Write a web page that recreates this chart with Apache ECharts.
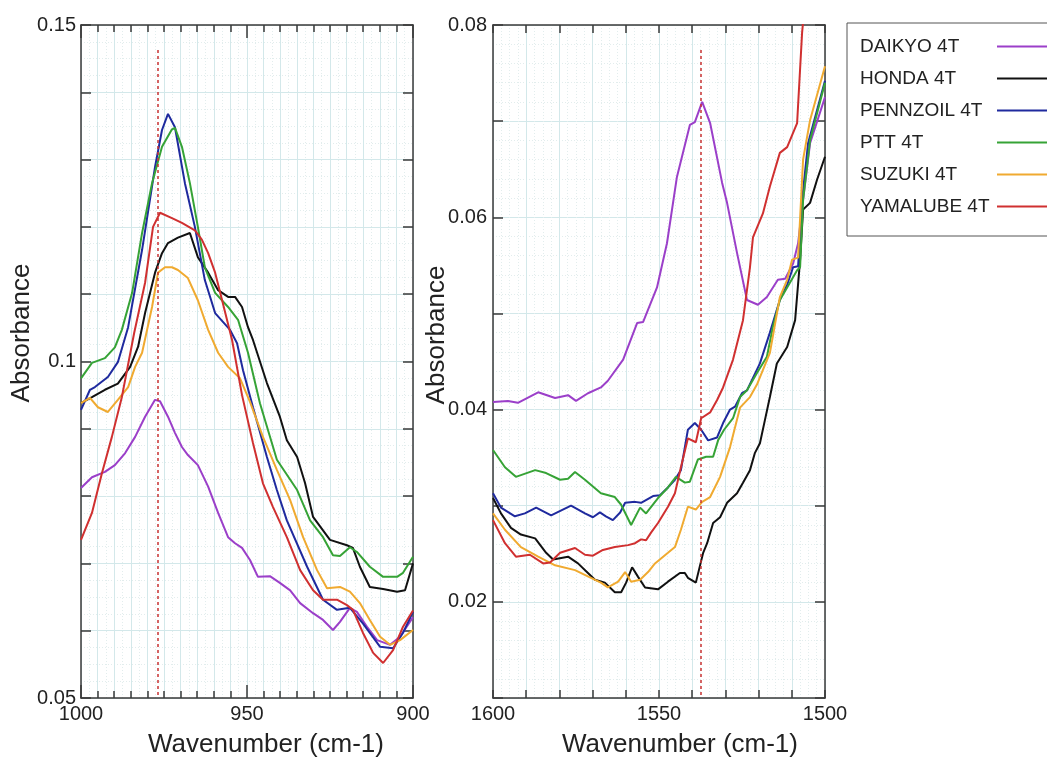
<!DOCTYPE html>
<html>
<head>
<meta charset="utf-8">
<script src="https://cdn.jsdelivr.net/npm/echarts@6/dist/echarts.min.js"></script>
<style>
html,body{margin:0;padding:0;background:#fff;}
#chart{width:1047px;height:762px;}
</style>
</head>
<body>
<div id="chart"></div>
<script>
// ---------- DATA ----------
const seriesNames = ['DAIKYO 4T', 'HONDA 4T', 'PENNZOIL 4T', 'PTT 4T', 'SUZUKI 4T', 'YAMALUBE 4T'];
const seriesColors = ['#9b3fc9', '#111111', '#1f2a9e', '#36a336', '#f0aa30', '#d03030'];

// Panel A: 1000 - 900 cm-1  [wavenumber, absorbance]
const daikyoA = [[1000,0.0812],[996.7,0.0828],[992.8,0.0836],[989.8,0.0846],[986.7,0.0864],[983.7,0.0888],[980.7,0.0918],[977.7,0.0943],[976.2,0.0941],[973.8,0.0918],[971.7,0.0894],[969.6,0.0873],[967.8,0.0861],[964.8,0.0846],[961.7,0.0814],[958.7,0.0775],[955.7,0.0739],[953.6,0.0730],[951.5,0.0723],[949.1,0.0705],[946.7,0.0680],[943.1,0.0681],[940.1,0.0671],[937.0,0.0660],[934.0,0.0641],[930.1,0.0626],[927.1,0.0616],[924.1,0.0601],[922.0,0.0613],[919.0,0.0634],[916.9,0.0628],[913.9,0.0606],[910.8,0.0586],[906.9,0.0579],[903.9,0.0591],[900,0.0620]];
const hondaA = [[1000,0.0938],[996.7,0.0947],[992.8,0.0958],[988.9,0.0967],[985.2,0.0992],[982.8,0.1022],[980.7,0.1072],[977.7,0.1132],[975.6,0.1161],[973.8,0.1176],[970.8,0.1184],[967.2,0.1191],[964.8,0.1155],[961.7,0.1132],[958.7,0.1106],[955.7,0.1096],[953.6,0.1096],[951.5,0.1081],[949.7,0.1051],[948.2,0.1032],[944.0,0.0968],[940.1,0.0918],[938.0,0.0883],[934.9,0.0858],[932.5,0.0819],[930.1,0.0769],[925.0,0.0735],[919.9,0.0727],[918.1,0.0723],[916.0,0.0695],[913.0,0.0665],[909.0,0.0662],[904.8,0.0658],[902.4,0.0660],[900,0.0700]];
const pennzoilA = [[1000,0.0928],[997.3,0.0958],[995.8,0.0962],[991.9,0.0977],[988.9,0.0999],[985.8,0.1051],[981.6,0.1166],[977.7,0.1289],[975.6,0.1344],[973.8,0.1368],[971.7,0.1348],[968.7,0.1265],[965.7,0.1200],[962.7,0.1121],[959.6,0.1072],[955.1,0.1047],[953.0,0.1027],[951.2,0.0987],[948.2,0.0932],[944.0,0.0858],[941.0,0.0809],[938.0,0.0764],[931.9,0.0695],[927.1,0.0646],[922.9,0.0631],[919.0,0.0634],[915.1,0.0611],[909.9,0.0576],[906.0,0.0574],[903.0,0.0597],[900,0.0628]];
const pttA = [[1000,0.0975],[996.7,0.0998],[992.8,0.1005],[989.8,0.1021],[987.7,0.1047],[984.6,0.1102],[981.6,0.1191],[978.6,0.1265],[975.6,0.1319],[972.6,0.1345],[971.7,0.1347],[969.6,0.1319],[967.2,0.1265],[964.8,0.1200],[962.7,0.1140],[959.6,0.1102],[955.7,0.1081],[952.7,0.1062],[949.7,0.1013],[946.1,0.0938],[941.0,0.0854],[934.9,0.0809],[931.0,0.0764],[927.1,0.0739],[924.1,0.0712],[922.0,0.0711],[919.0,0.0724],[916.9,0.0717],[913.0,0.0695],[909.0,0.0680],[904.8,0.0680],[903.0,0.0686],[900,0.0710]];
const suzukiA = [[1000,0.0938],[997.3,0.0946],[994.9,0.0932],[991.9,0.0925],[988.9,0.0943],[985.8,0.0962],[983.7,0.0992],[981.6,0.1013],[978.6,0.1081],[976.8,0.1132],[974.7,0.1140],[972.6,0.1140],[970.8,0.1136],[967.8,0.1124],[964.8,0.1091],[961.7,0.1047],[958.7,0.1013],[955.7,0.0992],[952.1,0.0975],[949.1,0.0940],[945.2,0.0888],[941.0,0.0839],[937.0,0.0794],[933.1,0.0739],[928.9,0.0690],[925.9,0.0663],[922.0,0.0665],[919.0,0.0658],[916.0,0.0641],[913.0,0.0616],[909.9,0.0591],[906.9,0.0579],[903.9,0.0586],[900,0.0601]];
const yamalubeA = [[1000,0.0735],[996.7,0.0775],[993.7,0.0834],[990.7,0.0888],[987.7,0.0947],[984.0,0.1042],[980.7,0.1117],[978.3,0.1200],[976.2,0.1221],[972.6,0.1213],[969.6,0.1206],[965.7,0.1195],[963.6,0.1181],[961.7,0.1161],[959.6,0.1132],[957.5,0.1091],[954.5,0.1032],[951.5,0.0950],[948.2,0.0879],[945.2,0.0819],[942.2,0.0784],[938.0,0.0739],[934.0,0.0690],[930.1,0.0660],[927.1,0.0646],[922.9,0.0646],[919.9,0.0638],[918.1,0.0631],[915.1,0.0597],[912.0,0.0567],[909.0,0.0552],[906.0,0.0571],[903.0,0.0606],[900,0.0630]];

// Panel B: 1600 - 1500 cm-1
const daikyoB = [[1600,0.0408],[1595.5,0.0409],[1592.5,0.0407],[1586.4,0.0418],[1581.3,0.0412],[1577.4,0.0415],[1575.0,0.0409],[1571.4,0.0417],[1567.5,0.0423],[1565.4,0.0430],[1560.8,0.0452],[1556.6,0.0490],[1554.8,0.0491],[1550.6,0.0527],[1547.6,0.0573],[1544.6,0.0642],[1540.7,0.0696],[1539.2,0.0699],[1537.0,0.0720],[1534.6,0.0698],[1531.0,0.0636],[1529.5,0.0615],[1526.5,0.0563],[1523.5,0.0514],[1520.2,0.0509],[1517.5,0.0517],[1514.2,0.0535],[1512.0,0.0536],[1509.6,0.0552],[1508.1,0.0573],[1506.6,0.0618],[1504.5,0.0677],[1500,0.0725]];
const hondaB = [[1600,0.0308],[1597.6,0.0292],[1594.6,0.0277],[1591.6,0.0270],[1587.3,0.0266],[1584.0,0.0251],[1581.9,0.0244],[1577.4,0.0247],[1574.4,0.0240],[1571.4,0.0230],[1569.3,0.0223],[1566.3,0.0220],[1563.3,0.0210],[1561.4,0.0210],[1559.9,0.0220],[1558.1,0.0236],[1556.3,0.0226],[1554.2,0.0215],[1550.3,0.0213],[1547.3,0.0221],[1543.7,0.0230],[1542.2,0.0230],[1541.3,0.0225],[1538.9,0.0220],[1536.7,0.0251],[1535.5,0.0261],[1533.7,0.0282],[1531.6,0.0288],[1529.5,0.0303],[1526.5,0.0313],[1524.7,0.0324],[1522.6,0.0337],[1521.1,0.0355],[1519.6,0.0365],[1518.1,0.0389],[1516.6,0.0413],[1514.5,0.0448],[1511.4,0.0465],[1509.0,0.0493],[1507.5,0.0556],[1506.6,0.0608],[1504.5,0.0615],[1502.4,0.0639],[1500,0.0663]];
const pennzoilB = [[1600,0.0313],[1597.6,0.0298],[1593.4,0.0289],[1590.4,0.0292],[1587.0,0.0298],[1582.5,0.0290],[1576.5,0.0300],[1572.3,0.0292],[1569.9,0.0288],[1567.8,0.0293],[1566.0,0.0289],[1563.9,0.0285],[1561.7,0.0293],[1560.2,0.0303],[1557.2,0.0304],[1555.4,0.0303],[1551.8,0.0310],[1549.7,0.0311],[1547.3,0.0319],[1545.2,0.0327],[1543.4,0.0337],[1541.3,0.0379],[1539.2,0.0386],[1537.3,0.0379],[1535.2,0.0368],[1532.5,0.0371],[1530.7,0.0386],[1528.6,0.0400],[1527.1,0.0403],[1525.0,0.0417],[1523.5,0.0420],[1519.6,0.0448],[1516.6,0.0480],[1513.6,0.0514],[1511.4,0.0530],[1509.6,0.0548],[1508.1,0.0549],[1506.9,0.0618],[1505.1,0.0677],[1500,0.0742]];
const pttB = [[1600,0.0358],[1596.4,0.0340],[1593.1,0.0330],[1587.3,0.0337],[1584.0,0.0334],[1579.8,0.0327],[1577.4,0.0328],[1575.3,0.0335],[1572.3,0.0327],[1567.5,0.0313],[1563.3,0.0309],[1561.4,0.0301],[1558.4,0.0280],[1555.7,0.0298],[1553.9,0.0292],[1550.3,0.0308],[1547.3,0.0319],[1544.9,0.0330],[1542.2,0.0324],[1540.7,0.0325],[1538.3,0.0348],[1535.8,0.0351],[1533.7,0.0351],[1532.2,0.0368],[1530.4,0.0379],[1527.7,0.0391],[1525.6,0.0413],[1523.5,0.0420],[1520.5,0.0438],[1517.5,0.0455],[1515.7,0.0486],[1513.6,0.0514],[1511.4,0.0527],[1508.4,0.0545],[1507.5,0.0548],[1506.6,0.0618],[1504.5,0.0680],[1500,0.0740]];
const suzukiB = [[1600,0.0292],[1596.4,0.0275],[1591.6,0.0257],[1586.4,0.0247],[1581.3,0.0238],[1575.3,0.0233],[1570.5,0.0225],[1567.5,0.0220],[1565.4,0.0215],[1562.3,0.0221],[1560.2,0.0231],[1558.4,0.0221],[1555.7,0.0223],[1553.3,0.0231],[1551.2,0.0240],[1547.3,0.0251],[1545.2,0.0257],[1543.4,0.0275],[1541.3,0.0299],[1538.9,0.0296],[1537.0,0.0304],[1534.6,0.0309],[1531.6,0.0330],[1528.6,0.0361],[1525.6,0.0402],[1522.6,0.0413],[1520.5,0.0426],[1516.6,0.0459],[1513.6,0.0517],[1511.4,0.0535],[1509.9,0.0556],[1508.1,0.0558],[1506.6,0.0660],[1504.5,0.0701],[1500,0.0757]];
const yamalubeB = [[1600,0.0285],[1596.4,0.0261],[1593.1,0.0247],[1588.9,0.0249],[1584.9,0.0240],[1582.8,0.0241],[1579.8,0.0251],[1575.3,0.0256],[1572.3,0.0249],[1569.9,0.0248],[1566.9,0.0254],[1563.3,0.0257],[1559.3,0.0259],[1557.2,0.0261],[1555.4,0.0265],[1553.9,0.0264],[1552.4,0.0272],[1550.3,0.0282],[1547.3,0.0299],[1545.2,0.0313],[1543.4,0.0340],[1541.3,0.0370],[1538.9,0.0366],[1537.3,0.0391],[1534.6,0.0397],[1532.5,0.0410],[1530.7,0.0423],[1527.7,0.0452],[1524.7,0.0493],[1522.6,0.0548],[1521.7,0.0579],[1518.7,0.0604],[1516.6,0.0632],[1513.6,0.0667],[1511.4,0.0673],[1508.4,0.0698],[1506.9,0.0792],[1505.7,0.0836]];

const panelAData = [daikyoA, hondaA, pennzoilA, pttA, suzukiA, yamalubeA];
const panelBData = [daikyoB, hondaB, pennzoilB, pttB, suzukiB, yamalubeB];

// Axis ranges and tick labels
const xRangeA = [900, 1000];
const xRangeB = [1500, 1600];
const yRangeA = [0.05, 0.15];
const yRangeB = [0.01, 0.08];
const xLabelsA = [1000, 950, 900];
const xLabelsB = [1600, 1550, 1500];
const yLabelsA = [0.05, 0.1, 0.15];
const yLabelsB = [0.02, 0.04, 0.06, 0.08];

// Reference (dotted red) lines
const markerA = [977, 0.1463];
const markerB = [1537.3, 0.0774];

const xTitle = 'Wavenumber (cm-1)';
const yTitle = 'Absorbance';

// ---------- CHART ----------
const FONT = '"Liberation Sans", Arial, Helvetica, sans-serif';
const axisCol = '#3a3a3a';
const gridCyan = '#d3e8ea';
const faint = '#e2eded';

const hasLabel = (list, v) => list.some(t => Math.abs(t - v) < 1e-9);

function frameAxis(base, opts) {
  return Object.assign({
    type: 'value',
    axisLine: { show: true, onZero: false, lineStyle: { color: axisCol, width: 1.5 } },
    axisTick: { show: true, inside: true, length: 10, lineStyle: { color: axisCol, width: 1.5 } },
    axisLabel: { show: false },
    splitLine: { show: false },
    minorSplitLine: { show: false }
  }, base, opts);
}
function dottedAxis(base, interval, split) {
  return Object.assign({
    type: 'value', interval: interval,
    axisLine: { show: false }, axisTick: { show: false }, axisLabel: { show: false },
    splitLine: { show: false },
    minorTick: { show: false, splitNumber: split },
    minorSplitLine: { show: true, lineStyle: { color: faint, type: [1, 2], width: 1 } }
  }, base);
}
const labelStyle = { show: true, fontSize: 20, color: '#222', fontFamily: FONT };

const xAxes = [
  // panel A bottom
  frameAxis({ gridIndex: 0, position: 'bottom', min: xRangeA[0], max: xRangeA[1], inverse: true, interval: 50 }, {
    axisTick: { show: true, inside: true, length: 13, lineStyle: { color: axisCol, width: 1.5 } },
    minorTick: { show: true, splitNumber: 10, length: 7, lineStyle: { color: axisCol, width: 1.5 } },
    axisLabel: Object.assign({}, labelStyle, { margin: 6, formatter: v => hasLabel(xLabelsA, v) ? String(v) : '' }),
    splitLine: { show: true, lineStyle: { color: gridCyan } },
    minorSplitLine: { show: true, lineStyle: { color: gridCyan } }
  }),
  // panel A top
  frameAxis({ gridIndex: 0, position: 'top', min: xRangeA[0], max: xRangeA[1], inverse: true, interval: 50 }, {
    axisTick: { show: true, inside: true, length: 13, lineStyle: { color: axisCol, width: 1.5 } },
    minorTick: { show: true, splitNumber: 10, length: 7, lineStyle: { color: axisCol, width: 1.5 } }
  }),
  dottedAxis({ gridIndex: 0, position: 'bottom', min: xRangeA[0], max: xRangeA[1], inverse: true }, 5, 2),
  // panel B bottom
  frameAxis({ gridIndex: 1, position: 'bottom', min: xRangeB[0], max: xRangeB[1], inverse: true, interval: 10 }, {
    axisTick: { show: true, inside: true, length: 8, lineStyle: { color: axisCol, width: 1.5 } },
    axisLabel: Object.assign({}, labelStyle, { margin: 6, formatter: v => hasLabel(xLabelsB, v) ? String(v) : '' }),
    splitLine: { show: true, lineStyle: { color: gridCyan } },
    minorTick: { show: false, splitNumber: 4 },
    minorSplitLine: { show: true, lineStyle: { color: faint, type: [1, 2] } }
  }),
  // panel B top
  frameAxis({ gridIndex: 1, position: 'top', min: xRangeB[0], max: xRangeB[1], inverse: true, interval: 10 }, {
    axisTick: { show: true, inside: true, length: 8, lineStyle: { color: axisCol, width: 1.5 } }
  })
];

const yAxes = [
  // panel A left
  frameAxis({ gridIndex: 0, position: 'left', min: yRangeA[0], max: yRangeA[1], interval: 0.05 }, {
    minorTick: { show: true, splitNumber: 5, length: 10, lineStyle: { color: axisCol, width: 1.5 } },
    axisLabel: Object.assign({}, labelStyle, { margin: 5, formatter: v => hasLabel(yLabelsA, v) ? String(+v.toFixed(2)) : '' }),
    splitLine: { show: true, lineStyle: { color: gridCyan } },
    minorSplitLine: { show: true, lineStyle: { color: gridCyan } }
  }),
  // panel A right
  frameAxis({ gridIndex: 0, position: 'right', min: yRangeA[0], max: yRangeA[1], interval: 0.05 }, {
    minorTick: { show: true, splitNumber: 5, length: 10, lineStyle: { color: axisCol, width: 1.5 } }
  }),
  dottedAxis({ gridIndex: 0, position: 'left', min: yRangeA[0], max: yRangeA[1] }, 0.01, 4),
  // panel B left
  frameAxis({ gridIndex: 1, position: 'left', min: yRangeB[0], max: yRangeB[1], interval: 0.01 }, {
    axisLabel: Object.assign({}, labelStyle, { margin: 6, formatter: v => hasLabel(yLabelsB, v) ? v.toFixed(2) : '' }),
    splitLine: { show: true, lineStyle: { color: gridCyan } },
    minorTick: { show: false, splitNumber: 5 },
    minorSplitLine: { show: true, lineStyle: { color: faint, type: [1, 2] } }
  }),
  // panel B right
  frameAxis({ gridIndex: 1, position: 'right', min: yRangeB[0], max: yRangeB[1], interval: 0.01 }, {})
];

function markLineFor(m, yBottom) {
  return {
    silent: true, symbol: ['none', 'none'], label: { show: false },
    lineStyle: { color: '#c83232', type: [3, 3], width: 1.5 },
    data: [[{ coord: [m[0], m[1]] }, { coord: [m[0], yBottom] }]]
  };
}

const series = [];
seriesNames.forEach((name, i) => {
  series.push({
    name: name, type: 'line', xAxisIndex: 0, yAxisIndex: 0,
    data: panelAData[i], showSymbol: false, symbol: 'none', clip: true,
    lineStyle: { width: 2, color: seriesColors[i] }, itemStyle: { color: seriesColors[i] },
    markLine: i === 0 ? markLineFor(markerA, yRangeA[0]) : undefined
  });
});
seriesNames.forEach((name, i) => {
  series.push({
    name: name, type: 'line', xAxisIndex: 3, yAxisIndex: 3,
    data: panelBData[i], showSymbol: false, symbol: 'none', clip: true,
    lineStyle: { width: 2, color: seriesColors[i] }, itemStyle: { color: seriesColors[i] },
    markLine: i === 0 ? markLineFor(markerB, yRangeB[0]) : undefined
  });
});

const titleFont = '26px ' + FONT;
const option = {
  animation: false,
  backgroundColor: '#ffffff',
  grid: [
    { left: 81, top: 25, width: 332, height: 673 },
    { left: 493, top: 25, width: 332, height: 673 }
  ],
  xAxis: xAxes,
  yAxis: yAxes,
  legend: {
    orient: 'vertical', left: 847, top: 23, align: 'right',
    icon: 'rect', itemWidth: 62, itemHeight: 2, itemGap: 13,
    padding: [14, 60, 20, 13],
    borderColor: '#555', borderWidth: 1, backgroundColor: '#fff',
    data: seriesNames,
    formatter: n => '{n|' + n + '}',
    textStyle: { rich: { n: { width: 132, align: 'left', fontSize: 19, lineHeight: 20, fontFamily: FONT, color: '#222' } } }
  },
  graphic: [
    { type: 'text', x: 22, y: 333, rotation: Math.PI / 2, style: { text: yTitle, font: titleFont, fill: '#222', align: 'center', verticalAlign: 'middle' } },
    { type: 'text', x: 437, y: 335, rotation: Math.PI / 2, style: { text: yTitle, font: titleFont, fill: '#222', align: 'center', verticalAlign: 'middle' } },
    { type: 'text', x: 266, y: 745, style: { text: xTitle, font: titleFont, fill: '#222', align: 'center', verticalAlign: 'middle' } },
    { type: 'text', x: 680, y: 745, style: { text: xTitle, font: titleFont, fill: '#222', align: 'center', verticalAlign: 'middle' } }
  ],
  series: series
};

const chart = echarts.init(document.getElementById('chart'), null, { renderer: 'canvas' });
chart.setOption(option);
</script>
</body>
</html>
